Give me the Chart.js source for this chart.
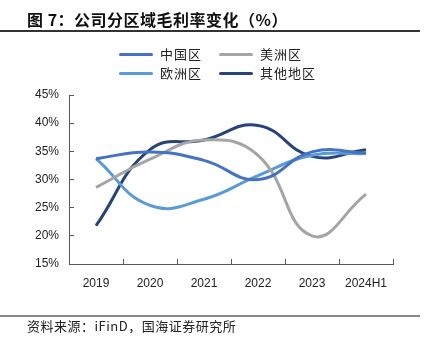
<!DOCTYPE html>
<html>
<head>
<meta charset="utf-8">
<script src="https://cdn.jsdelivr.net/npm/chart.js@4"></script>
<style>
  html, body { margin: 0; padding: 0; background: #fff; }
  #wrap { position: relative; width: 427px; height: 341px; overflow: hidden; }
  #chart { position: absolute; left: 0; top: 0; }
  .title { position: absolute; left: 27px; top: 7px; font: bold 16px "Noto Sans CJK SC", sans-serif; color: #111; letter-spacing: 0.5px; white-space: nowrap; }
  .rule { position: absolute; left: 0; width: 420px; }
  .legend { position: absolute; font: 13px "Noto Sans CJK SC", sans-serif; color: #222; letter-spacing: 1px; }
  .legend .item { position: absolute; white-space: nowrap; }
  .legend .swatch { position: absolute; width: 34px; height: 3px; border-radius: 2px; top: 9px; }
  .legend .txt { position: absolute; left: 41px; top: 0; line-height: 20px; }
  .source { position: absolute; left: 27px; top: 316px; font: 13px "Noto Sans CJK SC", sans-serif; color: #222; white-space: nowrap; letter-spacing: 0.5px; }
</style>
</head>
<body>
<div id="wrap">
  <canvas id="chart" width="427" height="341"></canvas>
  <div class="title">图 7：公司分区域毛利率变化（%）</div>
  <div class="rule" style="top:30px;height:1.5px;background:#333;"></div>
  <div class="legend" id="legend"></div>
  <div class="rule" style="top:315px;height:1.5px;background:#888;"></div>
  <div class="source">资料来源：iFinD，国海证券研究所</div>
</div>
<script>
const years = ['2019', '2020', '2021', '2022', '2023', '2024H1'];
const chinaMargin = [33.7, 34.9, 33.4, 30.0, 34.9, 34.7];
const americasMargin = [28.6, 33.6, 37.0, 34.3, 20.0, 27.4];
const europeMargin = [33.7, 25.4, 26.5, 30.7, 34.3, 34.6];
const otherMargin = [21.8, 35.3, 37.0, 39.6, 34.1, 35.3];
const yTicks = [15, 20, 25, 30, 35, 40, 45];

const series = [
    { label: '中国区', data: chinaMargin, color: '#4472C4' },
    { label: '美洲区', data: americasMargin, color: '#A5A5A5' },
    { label: '欧洲区', data: europeMargin, color: '#5B9BD5' },
    { label: '其他地区', data: otherMargin, color: '#264478' }
];

// legend: 2 x 2 grid, drawn as html
const legendPos = [[119, 44], [219, 44], [119, 63], [219, 63]];
const legendEl = document.getElementById('legend');
series.forEach(function(s, i) {
    const item = document.createElement('div');
    item.className = 'item';
    item.style.left = legendPos[i][0] + 'px';
    item.style.top = legendPos[i][1] + 'px';
    item.innerHTML = '<div class="swatch" style="background:' + s.color + '"></div><div class="txt">' + s.label + '</div>';
    legendEl.appendChild(item);
});

const ctx = document.getElementById('chart').getContext('2d');
new Chart(ctx, {
    type: 'line',
    data: {
        labels: years,
        datasets: series.map(function(s) {
            return {
                label: s.label,
                data: s.data,
                borderColor: s.color,
                backgroundColor: s.color,
                borderWidth: 3,
                pointRadius: 0,
                tension: 0.45,
                fill: false
            };
        })
    },
    options: {
        responsive: false,
        animation: false,
        layout: { padding: { top: 95, right: 34, bottom: 0, left: 0 } },
        plugins: {
            legend: { display: false },
            tooltip: { enabled: false }
        },
        scales: {
            x: {
                offset: true,
                grid: {
                    offset: true,
                    drawOnChartArea: false,
                    tickLength: -5,
                    color: '#595959'
                },
                border: { color: '#595959', width: 1 },
                ticks: {
                    color: '#222',
                    padding: 17,
                    font: { family: 'Liberation Sans', size: 12 }
                },
                afterFit: function(s) { s.height = 77; }
            },
            y: {
                min: 15,
                max: 45,
                afterBuildTicks: function(s) { s.ticks = yTicks.map(function(v) { return { value: v }; }); },
                grid: {
                    drawOnChartArea: false,
                    tickLength: -5,
                    color: '#595959'
                },
                border: { color: '#595959', width: 1 },
                ticks: {
                    color: '#222',
                    padding: 15,
                    font: { family: 'Liberation Sans', size: 12 },
                    callback: function(v) { return v + '%'; }
                },
                afterFit: function(s) { s.width = 69; }
            }
        }
    }
});
</script>
</body>
</html>
